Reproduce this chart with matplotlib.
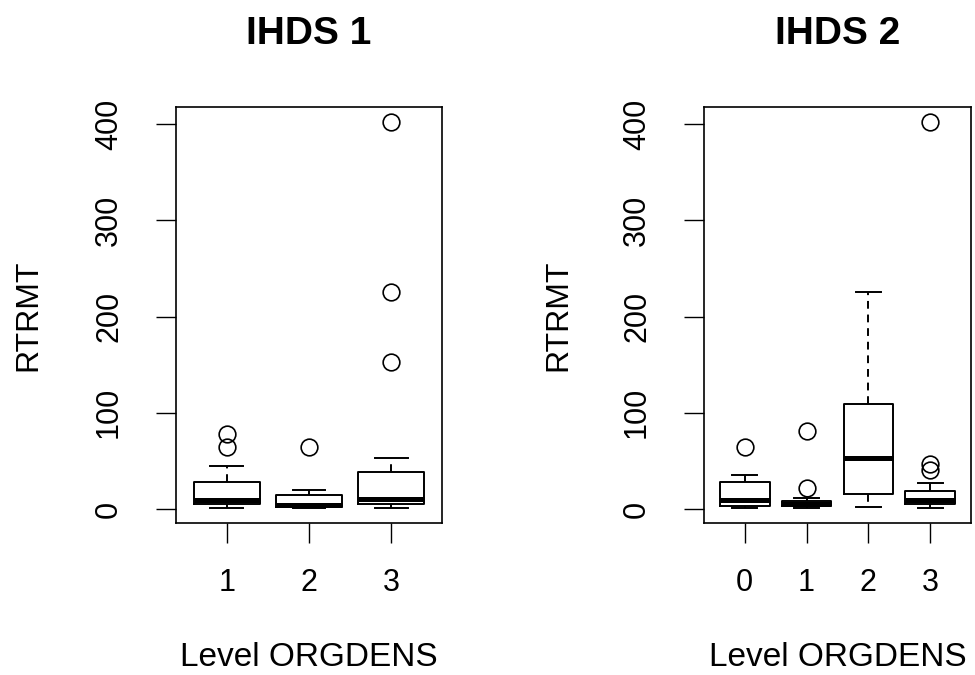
import matplotlib
matplotlib.use("Agg")
import matplotlib.pyplot as plt

plt.rcParams['font.family'] = ['Liberation Sans', 'DejaVu Sans']

# IHDS 1 boxplot summaries (RTRMT by ORGDENS level)
ihds1_levels = ['1', '2', '3']
ihds1_whislo = [1, 1, 1]
ihds1_q1 = [5, 2, 5]
ihds1_med = [9, 4, 10]
ihds1_q3 = [28, 15, 38]
ihds1_whishi = [45, 20, 53]
ihds1_fliers = [[64, 78], [64], [153, 226, 402]]

# IHDS 2 boxplot summaries
ihds2_levels = ['0', '1', '2', '3']
ihds2_whislo = [1, 1, 2, 1]
ihds2_q1 = [3, 3, 16, 5]
ihds2_med = [9, 5, 53, 9]
ihds2_q3 = [28, 8, 109, 19]
ihds2_whishi = [35, 11, 226, 27]
ihds2_fliers = [[64], [22, 81], [], [40, 47, 402]]

titles = ['IHDS 1', 'IHDS 2']
y_ticks = [0, 100, 200, 300, 400]


def make_stats(lo, q1, med, q3, hi, fl):
    return [dict(whislo=a, q1=b, med=c, q3=d, whishi=e, fliers=f)
            for a, b, c, d, e, f in zip(lo, q1, med, q3, hi, fl)]


fig = plt.figure(figsize=(9.75, 6.75), dpi=100)
# axes rectangles in figure fractions (left, bottom, width, height)
ax1 = fig.add_axes([176 / 975, 1 - 523 / 675, 266 / 975, 416 / 675])
ax2 = fig.add_axes([704 / 975, 1 - 523 / 675, 267 / 975, 416 / 675])

panels = [
    (ax1, ihds1_levels, make_stats(ihds1_whislo, ihds1_q1, ihds1_med,
                                   ihds1_q3, ihds1_whishi, ihds1_fliers)),
    (ax2, ihds2_levels, make_stats(ihds2_whislo, ihds2_q1, ihds2_med,
                                   ihds2_q3, ihds2_whishi, ihds2_fliers)),
]

for (ax, levels, stats), title in zip(panels, titles):
    n = len(levels)
    pos = list(range(1, n + 1))
    ax.bxp(stats, positions=pos, widths=0.8, showfliers=True,
           boxprops=dict(color='black', linewidth=1.4),
           whiskerprops=dict(color='black', linewidth=1.4, linestyle=(0, (4, 3))),
           capprops=dict(color='black', linewidth=1.4),
           medianprops=dict(color='black', linewidth=3.6, solid_capstyle='butt'),
           flierprops=dict(marker='o', markerfacecolor='none',
                           markeredgecolor='black', markersize=12,
                           markeredgewidth=1.2),
           capwidths=0.4)
    # R style: 4% padding around 0.5 .. n+0.5
    ax.set_xlim(0.5 - 0.04 * n, n + 0.5 + 0.04 * n)
    ax.set_ylim(-14.6, 417.8)
    ax.set_xticks(pos)
    ax.set_xticklabels(levels)
    ax.set_yticks(y_ticks)
    ax.set_yticklabels([str(t) for t in y_ticks], rotation=90, va='center')
    ax.tick_params(axis='both', direction='out', length=14.4, width=1.0,
                   labelsize=22, colors='black')
    ax.tick_params(axis='y', pad=23)
    ax.tick_params(axis='x', pad=18)
    for sp in ax.spines.values():
        sp.set_linewidth(1.2)
        sp.set_color('black')

    ax.set_title(title, fontsize=28, fontweight='bold', pad=45)
    ax.set_xlabel('Level ORGDENS', fontsize=24)
    ax.xaxis.set_label_coords(0.5, -0.285)
    ax.xaxis.label.set_va('top')
    ax.set_ylabel('RTRMT', fontsize=23)
    ax.yaxis.label.set(va='center', ha='center')

ax1.yaxis.set_label_coords((28 - 176) / 266, 0.5)
ax2.yaxis.set_label_coords((558 - 704) / 267, 0.5)

fig.savefig('out.png', dpi=100, facecolor='white')
